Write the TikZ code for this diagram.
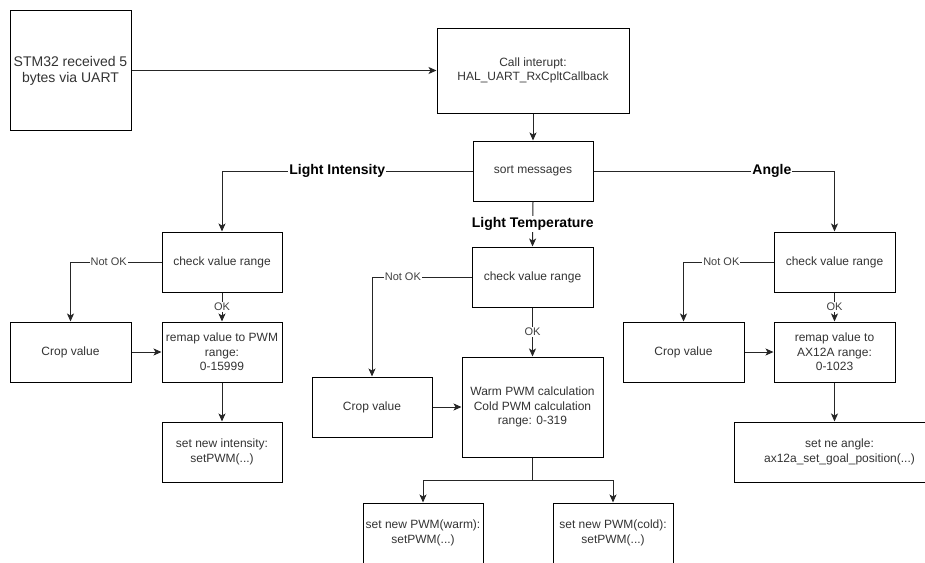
\documentclass[tikz,border=0pt]{standalone}
\usepackage{fontspec}
\setmainfont{Liberation Sans}
\usepackage{tikz}
\usetikzlibrary{arrows.meta, positioning}

\begin{document}
\begin{tikzpicture}[
    x=1pt, y=-1pt,
    box/.style={rectangle, draw, line width=1pt, inner sep=2pt, align=center, text=black!80,
      font=\fontsize{12}{14.5}\selectfont, minimum width=120pt, minimum height=60pt},
    line/.style={line width=1pt, draw=black!85},
    arr/.style={line, -{Stealth[length=8pt, width=7pt, inset=2pt]}},
    branch/.style={font=\fontsize{14}{16}\selectfont\bfseries, fill=white, inner sep=1pt, text=black},
    cond/.style={font=\fontsize{11}{13}\selectfont, fill=white, inner sep=1pt, text=black!75}
  ]

    \useasboundingbox (0,0) rectangle (925,562);
    \clip (0,0) rectangle (925,562);

    % Input and interrupt
    \node[box, minimum width=121pt, minimum height=120pt, font=\fontsize{14}{16}\selectfont] (recv) at (70.5,70.5) {STM32 received 5\\bytes via UART};
    \node[box, minimum width=192pt, minimum height=85pt] (call) at (533,70.5) {Call interupt:\\HAL\_UART\_RxCpltCallback};
    \node[box] (sort) at (533,171) {sort messages};

    % Light intensity
    \node[box] (chkA) at (222,262) {check value range};
    \node[box, minimum width=121pt] (cropA) at (70.5,352) {Crop value};
    \node[box] (remapA) at (222,352) {remap value to PWM\\range:\\0-15999};
    \node[box] (setA) at (222,452) {set new intensity:\\setPWM(...)};

    % Light temperature
    \node[box, minimum width=121pt] (chkT) at (532.5,277) {check value range};
    \node[box] (cropT) at (372,407) {Crop value};
    \node[box, minimum width=141pt, minimum height=100pt] (calcT) at (532.5,407) {Warm PWM calculation\\Cold PWM calculation\\range: 0-319};
    \coordinate (split) at (532.5,480);
    \node[box] (setW) at (423,533) {set new PWM(warm):\\setPWM(...)};
    \node[box] (setC) at (613,533) {set new PWM(cold):\\setPWM(...)};

    % Angle
    \node[box, minimum width=121pt] (chkG) at (834.5,262) {check value range};
    \node[box, minimum width=121pt] (cropG) at (683.5,352) {Crop value};
    \node[box, minimum width=121pt] (remapG) at (834.5,352) {remap value to\\AX12A range:\\0-1023};
    \node[box, minimum width=210pt] (setG) at (839.5,452) {set ne angle:\\ax12a\_set\_goal\_position(...)};

    % Lines
    \draw[arr] (recv) -- (call);
    \draw[arr] (call) -- (sort);
    \draw[arr] (sort.west) -| (chkA.north) node[branch, pos=0.27] {Light Intensity};
    \draw[arr] (sort.south) -- (chkT.north) node[branch, midway] {Light Temperature};
    \draw[arr] (sort.east) -| (chkG.north) node[branch, pos=0.37] {Angle};

    \draw[arr] (chkA.west) -| (cropA.north) node[cond, pos=0.29] {Not OK};
    \draw[arr] (chkA) -- (remapA) node[cond, midway] {OK};
    \draw[arr] (cropA) -- (remapA);
    \draw[arr] (remapA) -- (setA);

    \draw[arr] (chkT.west) -| (cropT.north) node[cond, pos=0.345] {Not OK};
    \draw[arr] (chkT) -- (calcT) node[cond, midway] {OK};
    \draw[arr] (cropT) -- (calcT);
    \draw[line] (calcT) -- (split);
    \draw[arr] (split) -| (setW.north);
    \draw[arr] (split) -| (setC.north);

    \draw[arr] (chkG.west) -| (cropG.north) node[cond, pos=0.29] {Not OK};
    \draw[arr] (chkG) -- (remapG) node[cond, midway] {OK};
    \draw[arr] (cropG) -- (remapG);
    \draw[arr] (remapG.south) -- (remapG.south |- setG.north);

  \end{tikzpicture}
\end{document}
